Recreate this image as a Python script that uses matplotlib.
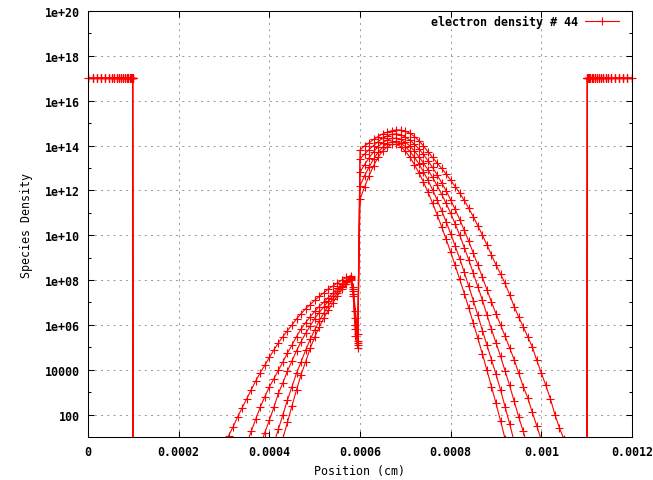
import matplotlib
matplotlib.use("Agg")
import matplotlib.pyplot as plt
import matplotlib.ticker as mticker
import numpy as np

################################################################################
# Mesh positions, in units of 1e-4 cm.
left_x = [0.0, 0.117, 0.205, 0.294, 0.382, 0.457, 0.523, 0.581, 0.634, 0.678,
          0.722, 0.766, 0.81, 0.854, 0.89, 0.927, 0.949, 0.971, 0.985]
right_x = [11.015, 11.029, 11.051, 11.073, 11.11, 11.146, 11.19, 11.234, 11.278,
           11.322, 11.366, 11.419, 11.477, 11.543, 11.618, 11.706, 11.795,
           11.883, 12.0]
floor_x = [1.005, 10.995]
mid_x = [2.9, 3.0, 3.1, 3.2, 3.3, 3.4, 3.5, 3.6, 3.7, 3.8, 3.9, 4.0, 4.1, 4.2,
         4.3, 4.4, 4.5, 4.6, 4.7, 4.8, 4.9, 5.0, 5.1, 5.2, 5.3, 5.4, 5.5, 5.6,
         5.7, 5.8, 5.85, 5.9, 5.95, 6.0, 6.1, 6.2, 6.3, 6.4, 6.5, 6.6, 6.7, 6.8,
         6.9, 7.0, 7.1, 7.2, 7.3, 7.4, 7.5, 7.6, 7.7, 7.8, 7.9, 8.0, 8.1, 8.2,
         8.3, 8.4, 8.5, 8.6, 8.7, 8.8, 8.9, 9.0, 9.1, 9.2, 9.3, 9.4, 9.5, 9.6,
         9.7, 9.8, 9.9, 10.0, 10.1, 10.2, 10.3, 10.4, 10.5, 10.6]

# log10 of the density in the contacts and in the empty gap.
contact_log = 17.0
floor_log = -20.0

# Electron density snapshots: log10 values, starting at mid_x[start].
curve_a_start = 13
curve_a = [0.2, 0.95, 1.65, 2.4, 3.1, 3.78, 4.35, 4.95, 5.45, 5.9, 6.3, 6.65,
           6.98, 7.3, 7.58, 7.82, 8.0,
           7.3, 5.5, 4.95,
           11.6, 12.15, 12.65, 13.1, 13.48, 13.75, 13.95, 14.05, 14.05, 13.95,
           13.75, 13.48, 13.15, 12.78, 12.37, 11.92, 11.43, 10.92, 10.38, 9.82,
           9.25, 8.65, 8.03, 7.4, 6.75, 6.08, 5.4, 4.7, 3.98, 3.25, 2.5, 1.72,
           0.92, -1.0]
curve_b_start = 12
curve_b = [0.7, 1.35, 2.0, 2.65, 3.25, 3.85, 4.35, 4.87, 5.35, 5.78, 6.18, 6.52,
           6.85, 7.15, 7.42, 7.68, 7.9, 8.05,
           7.4, 5.8, 5.1,
           12.2, 12.65, 13.05, 13.4, 13.7, 13.92, 14.08, 14.17, 14.18, 14.1,
           13.95, 13.74, 13.48, 13.18, 12.83, 12.45, 12.03, 11.58, 11.1, 10.6,
           10.07, 9.52, 8.95, 8.35, 7.72, 7.08, 6.42, 5.75, 5.1, 4.45, 3.8, 3.1,
           2.35, 1.6, 0.8, -1.0]
curve_c_start = 9
curve_c = [0.6, 1.2, 1.75, 2.32, 2.95, 3.42, 3.95, 4.4, 4.85, 5.25, 5.62, 5.95,
           6.28, 6.55, 6.8, 7.05, 7.3, 7.52, 7.75, 7.95, 8.1,
           7.5, 6.0, 5.2,
           12.8, 13.15, 13.45, 13.72, 13.95, 14.12, 14.25, 14.32, 14.33, 14.27,
           14.15, 13.98, 13.76, 13.5, 13.22, 12.92, 12.58, 12.22, 11.83, 11.42,
           10.98, 10.5, 10.0, 9.45, 8.9, 8.3, 7.7, 7.1, 6.45, 5.8, 5.2, 4.6,
           3.95, 3.3, 2.6, 1.9, 1.25, 0.6, -1.0]
curve_d_start = 5
curve_d = [0.1, 0.7, 1.25, 1.8, 2.33, 2.8, 3.23, 3.6, 3.98, 4.35, 4.75, 5.1,
           5.48, 5.82, 6.1, 6.36, 6.6, 6.82, 7.02, 7.22, 7.42, 7.63, 7.83, 8.0,
           8.12,
           7.6, 6.3, 5.3,
           13.4, 13.62, 13.82, 14.0, 14.17, 14.32, 14.43, 14.5, 14.52, 14.48,
           14.38, 14.24, 14.06, 13.85, 13.6, 13.32, 13.02, 12.7, 12.35, 11.98,
           11.58, 11.15, 10.7, 10.22, 9.72, 9.2, 8.67, 8.12, 7.57, 7.02, 6.5,
           6.0, 5.5, 4.98, 4.45, 3.85, 3.25, 2.75, 2.1, 1.5, 0.85, -0.5]
curve_e_start = 0
curve_e = [-0.2, 0.6, 1.05, 1.45, 1.9, 2.3, 2.7, 3.1, 3.5, 3.87, 4.2, 4.55,
           4.88, 5.2, 5.48, 5.75, 6.0, 6.27, 6.5, 6.72, 6.9, 7.1, 7.27, 7.43,
           7.6, 7.73, 7.87, 8.0, 8.12, 8.2,
           7.7, 6.6, 5.6,
           13.8, 13.98, 14.12, 14.27, 14.4, 14.52, 14.6, 14.66, 14.7, 14.69,
           14.64, 14.55, 14.4, 14.22, 13.98, 13.72, 13.47, 13.22, 12.98, 12.73,
           12.45, 12.17, 11.88, 11.55, 11.2, 10.82, 10.42, 10.0, 9.57, 9.12,
           8.68, 8.27, 7.85, 7.35, 6.82, 6.35, 5.92, 5.47, 5.02, 4.42, 3.85,
           3.3, 2.7, 2.0, 1.4, 0.9, -0.2]

curves = [(curve_a_start, curve_a), (curve_b_start, curve_b),
          (curve_c_start, curve_c), (curve_d_start, curve_d),
          (curve_e_start, curve_e)]

x_ticks = [0, 0.0002, 0.0004, 0.0006, 0.0008, 0.001, 0.0012]
y_ticks = [1e2, 1e4, 1e6, 1e8, 1e10, 1e12, 1e14, 1e16, 1e18, 1e20]
y_minor = [1e3, 1e5, 1e7, 1e9, 1e11, 1e13, 1e15, 1e17, 1e19]

################################################################################
plt.rcParams["font.family"] = ["DejaVu Sans Mono"]
plt.rcParams["font.weight"] = "bold"
plt.rcParams["font.size"] = 8.4

W, H = 653, 481
fig = plt.figure(figsize=(W / 100, H / 100), dpi=100)
ax = fig.add_axes([88 / W, 1 - 438 / H, 544 / W, 426 / H])

red = "#ff0000"
style = dict(color=red, lw=0.8, marker="+", ms=5.4, mew=0.8)
for i, (start, vals) in enumerate(curves):
    xs = left_x + [floor_x[0]] + mid_x[start:start + len(vals)] + [floor_x[1]] + right_x
    ys = [contact_log] * len(left_x) + [floor_log] + vals + [floor_log] + \
         [contact_log] * len(right_x)
    ax.plot(np.array(xs) * 1e-4, 10.0 ** np.array(ys),
            label="electron density # 44" if i == 0 else None, **style)

# The end points of the contacts are drawn whole, like gnuplot does.
ends_x = [left_x[0] * 1e-4, right_x[-1] * 1e-4]
ax.plot(ends_x, [10.0 ** contact_log] * 2, ls="none", clip_on=False,
        color=red, marker="+", ms=5.4, mew=0.8)

ax.set_yscale("log")
ax.set_xlim(0, 0.0012)
ax.set_ylim(10, 1e20)

ax.xaxis.set_major_locator(mticker.FixedLocator(x_ticks))
ax.yaxis.set_major_locator(mticker.FixedLocator(y_ticks))
ax.yaxis.set_minor_locator(mticker.FixedLocator(y_minor))
fmt = mticker.FuncFormatter(lambda v, p: "%g" % v)
ax.xaxis.set_major_formatter(fmt)
ax.yaxis.set_major_formatter(fmt)
ax.yaxis.set_minor_formatter(mticker.NullFormatter())

ax.tick_params(which="both", direction="in", top=True, right=True, width=0.75,
               colors="black")
ax.tick_params(which="major", length=4.5)
ax.tick_params(which="minor", length=2.5)
ax.tick_params(axis="y", pad=5.5)
ax.tick_params(axis="x", pad=6)

ax.grid(True, which="major", color="#a0a0a0", lw=0.75, linestyle=(0, (2, 4)))
for s in ax.spines.values():
    s.set_linewidth(0.75)

ax.set_xlabel("Position (cm)")
ax.set_ylabel("Species Density")
ax.xaxis.set_label_coords(0.5, -(465 - 438) / 426)
ax.yaxis.set_label_coords(-(88 - 33) / 544, 0.5)

ax.legend(loc="upper right", frameon=False, markerfirst=False, numpoints=1,
          handlelength=2.9, handletextpad=0.6, borderpad=0, borderaxespad=0,
          bbox_to_anchor=(1 - 13 / 544, 1 - 4 / 426))

fig.savefig("out.png", dpi=100)
